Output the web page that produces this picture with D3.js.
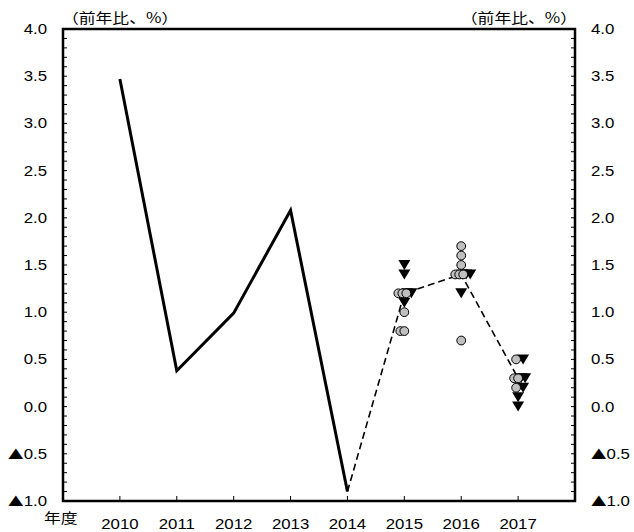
<!DOCTYPE html>
<html>
<head>
<meta charset="utf-8">
<script src="https://cdn.jsdelivr.net/npm/d3@7"></script>
<style>
  html, body { margin: 0; padding: 0; background: #fff; }
  text { font-family: "Liberation Sans", "Noto Sans CJK JP", sans-serif; font-size: 14px; fill: #000; }
  .cjk { font-family: "Noto Sans CJK JP", sans-serif; }
</style>
</head>
<body>
<div id="chart"></div>
<script>
// actual results, fiscal years 2010-2014
const actualYears = [2010, 2011, 2012, 2013, 2014];
const actualValues = [3.47, 0.38, 0.99, 2.08, -0.9];

// median forecast path (dashed), starting from last actual
const medianYears = [2014, 2015, 2016, 2017];
const medianValues = [-0.9, 1.2, 1.4, 0.3];

// individual forecasts: circles (grey) and triangles (black)
const circleYears  = [2015, 2015, 2015, 2015, 2015, 2015, 2016, 2016, 2016, 2016, 2016, 2016, 2016, 2017, 2017, 2017, 2017];
const circleValues = [1.2, 1.2, 1.2, 1.0, 0.8, 0.8, 1.7, 1.6, 1.5, 1.4, 1.4, 1.4, 0.7, 0.5, 0.3, 0.3, 0.2];
const triYears  = [2015, 2015, 2015, 2015, 2015, 2016, 2016, 2016, 2016, 2017, 2017, 2017, 2017, 2017, 2017];
const triValues = [1.5, 1.4, 1.2, 1.2, 1.1, 1.4, 1.4, 1.4, 1.2, 0.5, 0.3, 0.3, 0.2, 0.1, 0.0];

const xLabels = [2010, 2011, 2012, 2013, 2014, 2015, 2016, 2017];
const yTicks = [4.0, 3.5, 3.0, 2.5, 2.0, 1.5, 1.0, 0.5, 0.0, -0.5, -1.0];
const unitLabel = '（前年比、%）';
const xTitle = '年度';

const width = 634, height = 532;
const margin = { top: 29, right: 59, bottom: 31, left: 63 };
const STRETCH = 1.2; // labels in the original are wide

const svg = d3.select('#chart').append('svg')
  .attr('width', width)
  .attr('height', height);

const x = d3.scaleLinear().domain([2009, 2018]).range([margin.left, width - margin.right]);
const y = d3.scaleLinear().domain([-1, 4]).range([height - margin.bottom, margin.top]);

function label(g, px, py, txt, anchor, cls) {
  const t = g.append('text')
    .attr('transform', `translate(${px},${py}) scale(${STRETCH},1)`)
    .attr('text-anchor', anchor)
    .attr('class', cls || null);
  return t.text(txt);
}

// y value label: negatives get the ▲ mark used in Japanese tables
function valueLabel(g, px, py, v, anchor) {
  const t = g.append('text')
    .attr('transform', `translate(${px},${py}) scale(${STRETCH},1)`)
    .attr('text-anchor', anchor);
  if (v < 0) t.append('tspan').attr('class', 'cjk').attr('font-size', 13).text('▲');
  t.append('tspan').text(d3.format('.1f')(Math.abs(v)));
}

// minor ticks every 0.1, inward on both sides
const minor = d3.range(-10, 41).map(i => i / 10);
const ticksG = svg.append('g').attr('stroke', '#000').attr('stroke-width', 1);
minor.forEach(v => {
  ticksG.append('line').attr('x1', x.range()[0]).attr('x2', x.range()[0] + 4).attr('y1', y(v)).attr('y2', y(v));
  ticksG.append('line').attr('x1', x.range()[1]).attr('x2', x.range()[1] - 4).attr('y1', y(v)).attr('y2', y(v));
});
xLabels.forEach(yr => {
  ticksG.append('line').attr('x1', x(yr)).attr('x2', x(yr)).attr('y1', y(-1)).attr('y2', y(-1) - 5);
});

// y labels both sides
const labelsG = svg.append('g');
yTicks.forEach(v => {
  valueLabel(labelsG, margin.left - 16, y(v) + 5, v, 'end');
  valueLabel(labelsG, width - margin.right + 16, y(v) + 5, v, 'start');
});
xLabels.forEach(yr => label(labelsG, x(yr), height - 3, String(yr), 'middle'));
label(labelsG, 44, height - 9, xTitle, 'start', 'cjk');
label(labelsG, margin.left - 1, 22.5, unitLabel, 'start', 'cjk');
label(labelsG, width - margin.right + 2, 22.5, unitLabel, 'end', 'cjk');

// lines
const line = d3.line().x(d => x(d[0])).y(d => y(d[1]));
svg.append('path')
  .datum(d3.zip(medianYears, medianValues))
  .attr('d', line)
  .attr('fill', 'none')
  .attr('stroke', '#000')
  .attr('stroke-width', 1.6)
  .attr('stroke-dasharray', '7,4');

svg.append('path')
  .datum(d3.zip(actualYears, actualValues))
  .attr('d', line)
  .attr('fill', 'none')
  .attr('stroke', '#000')
  .attr('stroke-width', 3)
  .attr('stroke-linejoin', 'miter');

// spread markers that share a year and value side by side
function spread(years, values, otherYears, otherValues, shift) {
  const counts = d3.rollup(d3.range(years.length), v => v.length, i => years[i] + '|' + values[i]);
  const seen = new Map();
  const other = new Set(otherYears.map((yr, i) => yr + '|' + otherValues[i]));
  return years.map((yr, i) => {
    const key = yr + '|' + values[i];
    const n = counts.get(key);
    const k = seen.get(key) || 0;
    seen.set(key, k + 1);
    const dx = (k - (n - 1) / 2) * 4 + ((n > 1 || other.has(key)) ? shift : 0);
    return { year: yr, value: values[i], dx };
  });
}

const tris = spread(triYears, triValues, circleYears, circleValues, 5);
const circles = spread(circleYears, circleValues, triYears, triValues, -2);

svg.append('g')
  .selectAll('path')
  .data(tris)
  .join('path')
  .attr('transform', d => `translate(${x(d.year) + d.dx},${y(d.value)})`)
  .attr('d', 'M-6,-5L6,-5L0,5Z')
  .attr('fill', '#000');

svg.append('g')
  .selectAll('circle')
  .data(circles)
  .join('circle')
  .attr('cx', d => x(d.year) + d.dx)
  .attr('cy', d => y(d.value))
  .attr('r', 4.4)
  .attr('fill', '#bfbfbf')
  .attr('stroke', '#000')
  .attr('stroke-width', 1);

// frame
svg.append('rect')
  .attr('x', x.range()[0])
  .attr('y', y(4))
  .attr('width', x.range()[1] - x.range()[0])
  .attr('height', y(-1) - y(4))
  .attr('fill', 'none')
  .attr('stroke', '#000')
  .attr('stroke-width', 2.5);
</script>
</body>
</html>
